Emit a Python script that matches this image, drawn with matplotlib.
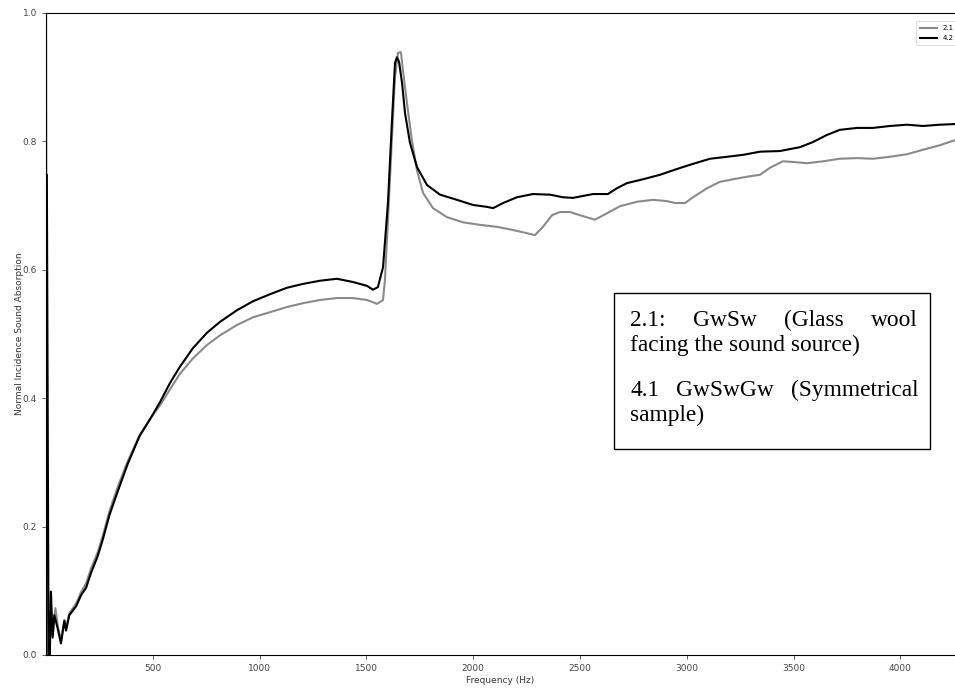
import matplotlib
matplotlib.use("Agg")
import matplotlib.pyplot as plt
from matplotlib.patches import Rectangle

# sample 2.1 (GwSw)
freq_21 = [0, 6, 14, 23, 31, 44, 55, 70, 86, 94, 109, 141, 164, 188, 211, 242, 266, 297,
           336, 383, 438, 492, 534, 581, 627, 688, 754, 815, 894, 969, 1049, 1128, 1203,
           1283, 1362, 1437, 1503, 1550, 1578, 1587, 1601, 1620, 1634, 1648, 1662, 1671,
           1690, 1713, 1737, 1765, 1812, 1877, 1952, 2032, 2111, 2186, 2252, 2289, 2327,
           2369, 2406, 2453, 2500, 2570, 2626, 2687, 2767, 2842, 2907, 2945, 2992, 3029,
           3095, 3155, 3216, 3282, 3343, 3390, 3450, 3497, 3563, 3638, 3717, 3797, 3872,
           3951, 4031, 4106, 4185, 4256, 4300]
alpha_21 = [1.05, 0.0, 0.0, 0.060, 0.030, 0.073, 0.045, 0.022, 0.055, 0.042, 0.065, 0.080,
            0.098, 0.112, 0.135, 0.160, 0.186, 0.224, 0.262, 0.302, 0.342, 0.370, 0.389,
            0.414, 0.438, 0.462, 0.483, 0.498, 0.514, 0.526, 0.534, 0.542, 0.548, 0.553,
            0.556, 0.556, 0.553, 0.547, 0.553, 0.584, 0.678, 0.807, 0.900, 0.938, 0.939,
            0.911, 0.860, 0.802, 0.755, 0.720, 0.696, 0.682, 0.674, 0.670, 0.667, 0.662,
            0.657, 0.654, 0.667, 0.685, 0.690, 0.690, 0.685, 0.678, 0.688, 0.699, 0.706,
            0.709, 0.707, 0.704, 0.704, 0.713, 0.727, 0.737, 0.741, 0.745, 0.748, 0.759,
            0.769, 0.768, 0.766, 0.769, 0.773, 0.774, 0.773, 0.776, 0.780, 0.787, 0.794,
            0.802, 0.805]

# sample 4.2 (GwSwGw)
freq_42 = [0, 4, 12, 18, 23, 31, 39, 55, 70, 86, 94, 109, 141, 164, 188, 211, 242, 266,
           297, 336, 383, 438, 492, 534, 581, 627, 688, 754, 815, 894, 969, 1049, 1128,
           1203, 1283, 1362, 1437, 1503, 1531, 1554, 1578, 1601, 1620, 1634, 1643, 1653,
           1667, 1681, 1704, 1737, 1784, 1845, 1924, 1999, 2065, 2093, 2140, 2205, 2280,
           2360, 2420, 2467, 2561, 2631, 2673, 2720, 2795, 2875, 2954, 3029, 3109, 3188,
           3263, 3343, 3436, 3530, 3591, 3656, 3717, 3797, 3872, 3951, 4031, 4106, 4185,
           4256, 4300]
alpha_42 = [0.05, 0.748, 0.0, 0.0, 0.099, 0.027, 0.062, 0.041, 0.018, 0.053, 0.038, 0.062,
            0.076, 0.093, 0.105, 0.128, 0.154, 0.180, 0.218, 0.255, 0.298, 0.341, 0.370,
            0.394, 0.424, 0.449, 0.478, 0.502, 0.519, 0.537, 0.551, 0.562, 0.572, 0.578,
            0.583, 0.586, 0.581, 0.575, 0.569, 0.573, 0.604, 0.704, 0.833, 0.922, 0.931,
            0.924, 0.891, 0.844, 0.798, 0.760, 0.732, 0.717, 0.709, 0.701, 0.698, 0.696,
            0.704, 0.713, 0.718, 0.717, 0.713, 0.712, 0.718, 0.718, 0.727, 0.735, 0.741,
            0.748, 0.757, 0.765, 0.773, 0.776, 0.779, 0.784, 0.785, 0.791, 0.799, 0.810,
            0.818, 0.821, 0.821, 0.824, 0.826, 0.824, 0.826, 0.827, 0.827]

labels = ["2.1", "4.2"]
xticks = [500, 1000, 1500, 2000, 2500, 3000, 3500, 4000]
yticks = [0.0, 0.2, 0.4, 0.6, 0.8, 1.0]

W, H = 955, 689
fig = plt.figure(figsize=(W / 100, H / 100), dpi=100)
ax = fig.add_axes([46 / W, (H - 655) / H, (W - 46) / W, 642 / H])

ax.plot(freq_21, alpha_21, color="#8a8a8a", lw=1.5, label=labels[0])
ax.plot(freq_42, alpha_42, color="black", lw=1.5, label=labels[1])

ax.set_xlim(0, 4256)
ax.set_ylim(0, 1.0)
ax.set_xticks(xticks)
ax.set_yticks(yticks)
ax.yaxis.set_major_formatter(matplotlib.ticker.FormatStrFormatter("%.1f"))
ax.tick_params(labelsize=6.5, length=3, width=0.6, colors="#444444")
ax.spines["right"].set_visible(False)
for s in ["left", "top", "bottom"]:
    ax.spines[s].set_linewidth(0.8)
ax.set_xlabel("Frequency (Hz)", fontsize=6.5, color="#333333", labelpad=2)
ax.set_ylabel("Normal Incidence Sound Absorption", fontsize=6.5, color="#333333", labelpad=-1)

leg = ax.legend(loc="upper left", bbox_to_anchor=(0.953, 0.993), fontsize=5,
                handlelength=2.5, borderpad=0.6, labelspacing=0.6, framealpha=1)
leg.get_frame().set_linewidth(0.5)
leg.get_frame().set_edgecolor("#cccccc")

# annotation box with justified serif text
fig.add_artist(Rectangle((614 / W, (H - 449) / H), (930 - 614) / W, (449 - 293) / H,
                         transform=fig.transFigure, fill=True, facecolor="white",
                         edgecolor="black", lw=1.0, zorder=5))

serif = "Liberation Serif"
fs = 16.8
renderer = fig.canvas.get_renderer()


def justified(words, y_px, x0=630, x1=918):
    arts = [fig.text(0, 0, w, fontsize=fs, family=serif, transform=fig.transFigure, zorder=6)
            for w in words]
    widths = [a.get_window_extent(renderer).width for a in arts]
    gap = (x1 - x0 - sum(widths)) / (len(words) - 1)
    x = x0
    for a, w in zip(arts, widths):
        a.set_position((x / W, (H - y_px) / H))
        x += w + gap


def plain(line, y_px, x0=630):
    fig.text(x0 / W, (H - y_px) / H, line, fontsize=fs, family=serif, zorder=6)


justified(["2.1:", "GwSw", "(Glass", "wool"], 326)
plain("facing the sound source)", 351)
justified(["4.1", "GwSwGw", "(Symmetrical"], 396)
plain("sample)", 421)

fig.savefig("out.png", dpi=100)
